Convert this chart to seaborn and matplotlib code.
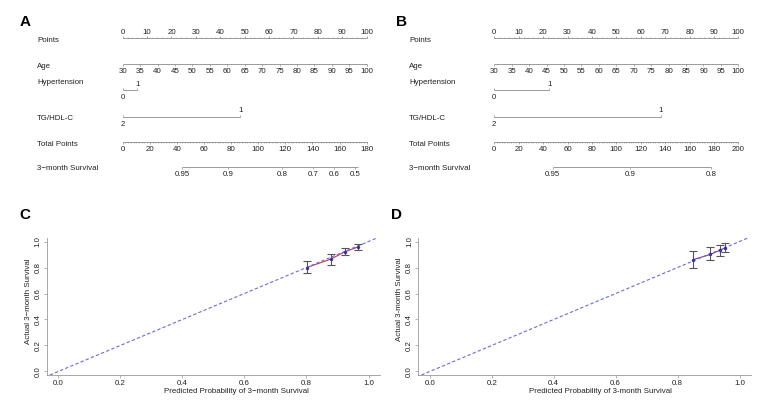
import numpy as np
import matplotlib
matplotlib.use("Agg")
import matplotlib.pyplot as plt
import seaborn as sns

sns.set_theme(style="white")
plt.rcParams['font.family'] = ['Liberation Sans', 'DejaVu Sans']

# -------------------- DATA: NOMOGRAMS --------------------
points_ticks = np.arange(0, 101, 10)
age_ticks = np.arange(30, 101, 5)
age_range = (30, 100)

ht_labels = ['0', '1']
ht_points_a = [0, 5.9]
ht_points_b = [0, 22.5]

tg_labels = ['2', '1']
tg_points_a = [0, 48.1]
tg_points_b = [0, 68.3]

total_ticks_a = np.arange(0, 181, 20)
total_ticks_b = np.arange(0, 201, 20)

surv_labels_a = ['0.95', '0.9', '0.8', '0.7', '0.6', '0.5']
surv_total_a = [44.0, 77.7, 117.5, 140.6, 155.9, 171.3]
surv_end_a = 173.8
surv_labels_b = ['0.95', '0.9', '0.8']
surv_total_b = [47.9, 111.2, 177.9]
surv_end_b = 177.9

# -------------------- DATA: CALIBRATION --------------------
pred_c = [0.801, 0.879, 0.923, 0.965]
obs_c = [0.800, 0.865, 0.920, 0.957]
lo_c = [0.755, 0.820, 0.893, 0.936]
hi_c = [0.850, 0.905, 0.948, 0.980]

pred_d = [0.850, 0.906, 0.936, 0.954]
obs_d = [0.860, 0.901, 0.932, 0.952]
lo_d = [0.800, 0.857, 0.888, 0.919]
hi_d = [0.927, 0.956, 0.971, 0.987]

W, H = 764, 404
TXT = '#222222'
LINE = '#8a8a8a'
FS = 5.7


def px_box(x0, y0, x1, y1):
    # pixel box (top-left origin) -> figure fraction
    return [x0 / W, 1 - y1 / H, (x1 - x0) / W, (y1 - y0) / H]


def axis_row(ax, y, pos, labels, side, minor=None, tick=1.6):
    # side: where the tick labels go; y grows downwards here
    d = -1 if side == 'above' else 1
    ax.hlines(y, min(pos), max(pos), color=LINE, lw=0.6)
    ax.vlines(pos, y, y + d * tick, color=LINE, lw=0.5)
    if minor is not None:
        ax.vlines(minor, y, y + d * tick * 0.6, color=LINE, lw=0.4)
    off = 5.5 if side == 'above' else 7.5
    for p, lab in zip(pos, labels):
        ax.text(p, y + d * off, lab, ha='center', va='center', fontsize=FS, color=TXT)


def nomogram(ax, ht_pts, tg_pts, total_ticks, surv_labels, surv_total, surv_end):
    total_max = total_ticks[-1]
    rows = {'Points': 38, 'Age': 64, 'Hypertension': 90,
            'TG/HDL-C': 117, 'Total Points': 142, '3\u2212month Survival': 167}
    label_dy = {'Points': 2.5, 'Age': 2, 'Hypertension': -7, 'TG/HDL-C': 2,
                'Total Points': 2, '3\u2212month Survival': 2}
    for name, y in rows.items():
        ax.text(-35, y + label_dy[name], name, ha='left', va='center', fontsize=FS, color=TXT)

    axis_row(ax, rows['Points'], points_ticks, [str(t) for t in points_ticks], 'above',
             minor=np.arange(0, 101, 2))
    age_pts = (age_ticks - age_range[0]) / (age_range[1] - age_range[0]) * 100
    axis_row(ax, rows['Age'], age_pts, [str(a) for a in age_ticks], 'below')

    y = rows['Hypertension']
    ax.hlines(y, ht_pts[0], ht_pts[1], color=LINE, lw=0.6)
    ax.vlines(ht_pts, y, y - 1.6, color=LINE, lw=0.5)
    ax.text(ht_pts[0], y + 7.5, ht_labels[0], ha='center', va='center', fontsize=FS, color=TXT)
    ax.text(ht_pts[1], y - 5.5, ht_labels[1], ha='center', va='center', fontsize=FS, color=TXT)

    y = rows['TG/HDL-C']
    ax.hlines(y, tg_pts[0], tg_pts[1], color=LINE, lw=0.6)
    ax.vlines(tg_pts, y, y - 1.6, color=LINE, lw=0.5)
    ax.text(tg_pts[0], y + 7.5, tg_labels[0], ha='center', va='center', fontsize=FS, color=TXT)
    ax.text(tg_pts[1], y - 7, tg_labels[1], ha='center', va='center', fontsize=FS, color=TXT)

    scale = 100 / total_max
    axis_row(ax, rows['Total Points'], total_ticks * scale,
             [str(t) for t in total_ticks], 'below',
             minor=np.arange(0, total_max + 1, 2) * scale)

    y = rows['3\u2212month Survival']
    sp = np.array(surv_total) * scale
    ax.hlines(y, sp[0], surv_end * scale, color=LINE, lw=0.6)
    ax.vlines(sp, y, y + 1.6, color=LINE, lw=0.5)
    for p, lab in zip(sp, surv_labels):
        ax.text(p, y + 8, lab, ha='center', va='center', fontsize=FS, color=TXT)


def calibration(ax, pred, obs, lo, hi, line_color, xlabel, ylabel, xl_pos, yl_pos):
    ax.set_xlim(-0.037, 1.037)
    ax.set_ylim(-0.027, 1.027)
    ax.axline((0, 0), slope=1, color='#6b6bdc', lw=0.8, ls=(0, (3, 2)), zorder=3)
    sns.lineplot(x=pred, y=obs, ax=ax, color=line_color, lw=0.8, zorder=2)
    obs = np.array(obs)
    ax.errorbar(pred, obs, yerr=[obs - np.array(lo), np.array(hi) - obs], fmt='none',
                ecolor='#555555', elinewidth=0.8, capsize=2.6, capthick=0.8, zorder=4)
    ax.scatter(pred, obs, s=2, color='#3333aa', zorder=5)
    sns.despine(ax=ax)
    for s in ['left', 'bottom']:
        ax.spines[s].set_color('#999999')
        ax.spines[s].set_linewidth(0.6)
    ticks = np.arange(0, 1.01, 0.2)
    ax.set_xticks(ticks)
    ax.set_yticks(ticks)
    ax.set_xticklabels([f'{t:.1f}' for t in ticks])
    ax.set_yticklabels([f'{t:.1f}' for t in ticks], rotation=90, va='center')
    ax.tick_params(axis='both', direction='out', length=2.2, width=0.5, color='#999999',
                   labelsize=FS, labelcolor=TXT, pad=1.5, left=True, bottom=True)
    ax.set_xlabel(xlabel, fontsize=FS, color=TXT)
    ax.set_ylabel(ylabel, fontsize=FS, color=TXT)
    ax.xaxis.set_label_coords(xl_pos, -0.095)
    ax.yaxis.set_label_coords(-0.045, yl_pos)
    ax.set_facecolor('white')


fig = plt.figure(figsize=(W / 100, H / 100), dpi=100)

axA = fig.add_axes(px_box(0, 0, 380, 195))
axA.set_xlim(-122.7 / 2.44, (380 - 122.7) / 2.44)
axA.set_ylim(195, 0)
axA.axis('off')
nomogram(axA, ht_points_a, tg_points_a, total_ticks_a, surv_labels_a, surv_total_a, surv_end_a)

axB = fig.add_axes(px_box(380, 0, 764, 195))
axB.set_xlim((380 - 494.3) / 2.44, (764 - 494.3) / 2.44)
axB.set_ylim(195, 0)
axB.axis('off')
nomogram(axB, ht_points_b, tg_points_b, total_ticks_b, surv_labels_b, surv_total_b, surv_end_b)

axC = fig.add_axes(px_box(46.7, 238, 380, 375))
calibration(axC, pred_c, obs_c, lo_c, hi_c, '#d0304a',
            'Predicted Probability of 3\u2212month Survival', 'Actual 3\u2212month Survival',
            0.57, 0.54)

axD = fig.add_axes(px_box(418.3, 238, 751, 375))
calibration(axD, pred_d, obs_d, lo_d, hi_d, '#a0306a',
            'Predicted Probability of 3-month Survival', 'Actual 3-month Survival',
            0.547, 0.55)

for lab, x, y in [('A', 25, 22), ('B', 401, 22), ('C', 25, 215), ('D', 396, 215)]:
    fig.text(x / W, 1 - y / H, lab, fontsize=11, fontweight='bold', color='black',
             ha='center', va='center')

fig.savefig('out.png', dpi=100, facecolor='white')
